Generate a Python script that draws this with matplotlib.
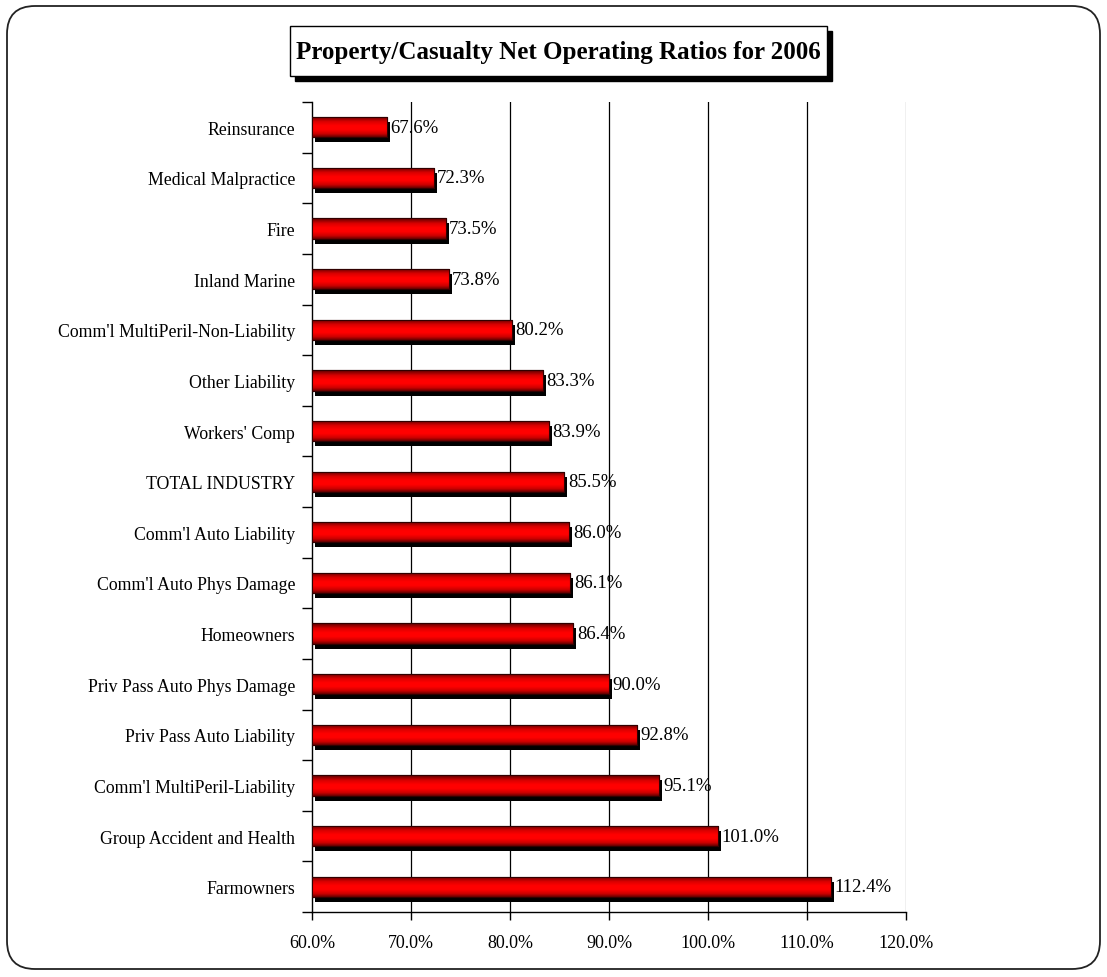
import numpy as np
import matplotlib
matplotlib.use("Agg")
import matplotlib.pyplot as plt
from matplotlib.patches import FancyBboxPatch, Rectangle
from matplotlib.colors import LinearSegmentedColormap
import matplotlib.transforms as mtransforms
from matplotlib.ticker import FuncFormatter, MultipleLocator, FixedLocator

categories = [
    "Reinsurance", "Medical Malpractice", "Fire", "Inland Marine",
    "Comm'l MultiPeril-Non-Liability", "Other Liability", "Workers' Comp",
    "TOTAL INDUSTRY", "Comm'l Auto Liability", "Comm'l Auto Phys Damage",
    "Homeowners", "Priv Pass Auto Phys Damage", "Priv Pass Auto Liability",
    "Comm'l MultiPeril-Liability", "Group Accident and Health", "Farmowners",
]
values = [67.6, 72.3, 73.5, 73.8, 80.2, 83.3, 83.9, 85.5, 86.0, 86.1,
          86.4, 90.0, 92.8, 95.1, 101.0, 112.4]
title = "Property/Casualty Net Operating Ratios for 2006"

plt.rcParams['font.family'] = ['Liberation Serif', 'DejaVu Serif']

W, H = 1107, 978
fig = plt.figure(figsize=(W / 100, H / 100), dpi=100)

# outer rounded border
border = FancyBboxPatch((7 / 100, 8 / 100), (1100 - 7) / 100, (970 - 7) / 100,
                        boxstyle="round,pad=0,rounding_size=0.28",
                        transform=fig.dpi_scale_trans, fill=False,
                        edgecolor="#222222", linewidth=1.3)
fig.patches.append(border)

x0, x1 = 312, 906
ytop, ybot = 103, 913
ax = fig.add_axes([x0 / W, 1 - ybot / H, (x1 - x0) / W, (ybot - ytop) / H])

n = len(categories)
ypos = np.arange(n)
xmin = 60.0
bh = 0.40

# shadow bars
shadow_tr = mtransforms.offset_copy(ax.transData, fig=fig, x=3, y=-5, units='dots')
ax.barh(ypos, np.array(values) - xmin, left=xmin, height=bh, color='black',
        transform=shadow_tr, zorder=2)
bars = ax.barh(ypos, np.array(values) - xmin, left=xmin, height=bh,
               color='red', edgecolor='#400000', linewidth=0.8, zorder=3)

cmap = LinearSegmentedColormap.from_list("redgrad", [
    (0.0, (0.35, 0.0, 0.0)),
    (0.25, (0.85, 0.0, 0.0)),
    (0.45, (1.0, 0.0, 0.0)),
    (0.65, (1.0, 0.0, 0.0)),
    (0.85, (0.8, 0.0, 0.0)),
    (1.0, (0.4, 0.0, 0.0)),
])
grad = np.linspace(0, 1, 64).reshape(-1, 1)
for b in bars:
    bx, by = b.get_x(), b.get_y()
    bw, bhh = b.get_width(), b.get_height()
    im = ax.imshow(grad, cmap=cmap, aspect='auto', origin='lower',
                   extent=[bx, bx + bw, by, by + bhh], zorder=3.5,
                   interpolation='bilinear')
    im.set_clip_path(b)
    edge = Rectangle((bx, by), bw, bhh, fill=False, edgecolor='#300000',
                     linewidth=0.8, zorder=4)
    ax.add_patch(edge)

for yv, v in zip(ypos, values):
    ax.annotate(f"{v:.1f}%", (v, yv), xytext=(2.5, 0), textcoords='offset points',
                va='center', ha='left', fontsize=13.5, zorder=5)

ax.set_xlim(60, 120)
ax.set_ylim(n - 0.5, -0.5)
ax.xaxis.set_major_locator(MultipleLocator(10))
ax.xaxis.set_major_formatter(FuncFormatter(lambda v, p: f"{v:.1f}%"))
ax.set_yticks(ypos)
ax.set_yticklabels(categories)
ax.yaxis.set_minor_locator(FixedLocator(np.arange(-0.5, n, 1.0)))
ax.tick_params(axis='y', which='major', length=0, pad=12, labelsize=12.8)
ax.tick_params(axis='y', which='minor', length=7, width=1.0, direction='out')
ax.tick_params(axis='x', which='major', length=6, width=1.0, direction='out',
               pad=10, labelsize=13)

for gx in [70, 80, 90, 100, 110]:
    ax.axvline(gx, color='black', linewidth=0.9, zorder=1)
ax.axvline(120, color='#b4b4b4', linewidth=1.0, zorder=1)

ax.spines['top'].set_visible(False)
ax.spines['right'].set_visible(False)
ax.spines['left'].set_linewidth(1.0)
ax.spines['bottom'].set_linewidth(1.0)

# title box with shadow
bl, br, bt, bb = 290, 827, 27, 77
shadow = Rectangle(((bl + 5) / W, 1 - (bb + 5) / H), (br - bl) / W, (bb - bt) / H,
                   transform=fig.transFigure, facecolor='black', edgecolor='black',
                   zorder=1)
fig.patches.append(shadow)
tbox = Rectangle((bl / W, 1 - bb / H), (br - bl) / W, (bb - bt) / H,
                 transform=fig.transFigure, facecolor='white', edgecolor='black',
                 linewidth=1.0, zorder=2)
fig.patches.append(tbox)
fig.text((bl + br) / 2 / W, 1 - (bt + bb) / 2 / H, title, ha='center', va='center',
         fontsize=18, fontweight='bold', zorder=3)

fig.savefig("out.png", dpi=100)
